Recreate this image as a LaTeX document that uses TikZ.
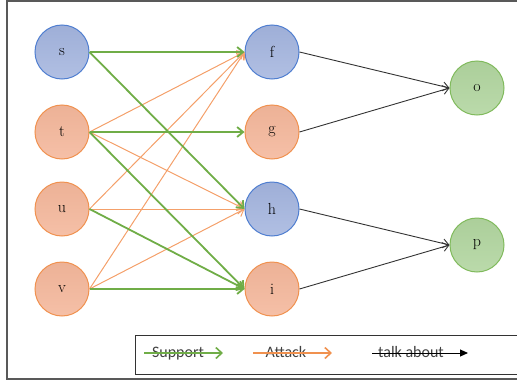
\documentclass[tikz,border=0pt]{standalone}
\usepackage{fontspec}
\newfontfamily\legendfont{Carlito}
\usetikzlibrary{arrows.meta}
\definecolor{bluefill}{HTML}{A3B4DE}
\definecolor{blueedge}{HTML}{4F7ED0}
\definecolor{orangefill}{HTML}{F4B79B}
\definecolor{orangeedge}{HTML}{F0914F}
\definecolor{greenfill}{HTML}{B1D59F}
\definecolor{greenedge}{HTML}{80BA5C}
\definecolor{supportcol}{HTML}{70AD47}
\definecolor{attackcol}{HTML}{F4A06A}
\definecolor{talkcol}{HTML}{333333}
\begin{document}
\begin{tikzpicture}[x=1pt, y=-1pt,
    arg/.style={circle, minimum size=54pt, inner sep=0pt, line width=1pt, font=\fontsize{16}{16}\selectfont},
    bluearg/.style={arg, draw=blueedge, top color=bluefill!97!black, bottom color=bluefill!85!white},
    orangearg/.style={arg, draw=orangeedge, top color=orangefill!97!black, bottom color=orangefill!88!white},
    greenarg/.style={arg, draw=greenedge, top color=greenfill!97!black, bottom color=greenfill!88!white},
    support/.style={supportcol, line width=1.8pt, -{Straight Barb[length=6pt,width=10pt]}},
    attack/.style={attackcol, line width=1pt, -{Straight Barb[length=6pt,width=10pt]}},
    talk/.style={talkcol, line width=0.9pt, -{Straight Barb[length=6pt,width=9pt]}},
    legendtext/.style={anchor=base, text=black!75, font=\legendfont\fontsize{16}{16}\selectfont}]
    \useasboundingbox (0,0) rectangle (517,383);
    \draw[black!65, line width=1.5pt] (530,1) -- (7,1) -- (7,379) -- (530,379);
    % left column
    \node[bluearg] (s) at (62,52) {s};
    \node[orangearg] (t) at (62,132) {t};
    \node[orangearg] (u) at (62,209) {u};
    \node[orangearg] (v) at (62,289) {v};
    % middle column
    \node[bluearg] (f) at (272,52) {f};
    \node[orangearg] (g) at (272,132) {g};
    \node[bluearg] (h) at (272,209) {h};
    \node[orangearg] (i) at (272,289) {i};
    % right column
    \node[greenarg] (o) at (477,88) {o};
    \node[greenarg] (p) at (477,245) {p};
    % attacks
    \draw[attack] (t.east) -- (f.west);
    \draw[attack] (u.east) -- (f.west);
    \draw[attack] (v.east) -- (f.west);
    \draw[attack] (t.east) -- (h.west);
    \draw[attack] (u.east) -- (h.west);
    \draw[attack] (v.east) -- (h.west);
    % supports
    \draw[support] (s.east) -- (f.west);
    \draw[support] (s.east) -- (h.west);
    \draw[support] (t.east) -- (g.west);
    \draw[support] (t.east) -- (i.west);
    \draw[support] (u.east) -- (i.west);
    \draw[support] (v.east) -- (i.west);
    % talk about
    \draw[talk] (f.east) -- (o.west);
    \draw[talk] (g.east) -- (o.west);
    \draw[talk] (h.east) -- (p.west);
    \draw[talk] (i.east) -- (p.west);
    % legend
    \draw[black!80, line width=1pt] (530,335) -- (135,335) -- (135,374) -- (530,374);
    \node[legendtext] (lsupport) at (178,357) {Support};
    \node[legendtext] (lattack) at (286,357) {Attack};
    \node[legendtext] (ltalk) at (411,357) {talk about};
    \coordinate (ls1) at (144,353);
    \coordinate (ls2) at (223,353);
    \coordinate (la1) at (253,353);
    \coordinate (la2) at (332,353);
    \coordinate (lt1) at (372,353);
    \coordinate (lt2) at (468,353);
    \draw[supportcol, line width=1.6pt, -{Straight Barb[length=6pt,width=11pt]}] (ls1) -- (ls2);
    \draw[orangeedge, line width=1.6pt, -{Straight Barb[length=6pt,width=11pt]}] (la1) -- (la2);
    \draw[black, line width=1pt, -{Triangle[length=8pt,width=7pt]}] (lt1) -- (lt2);
\end{tikzpicture}
\end{document}
